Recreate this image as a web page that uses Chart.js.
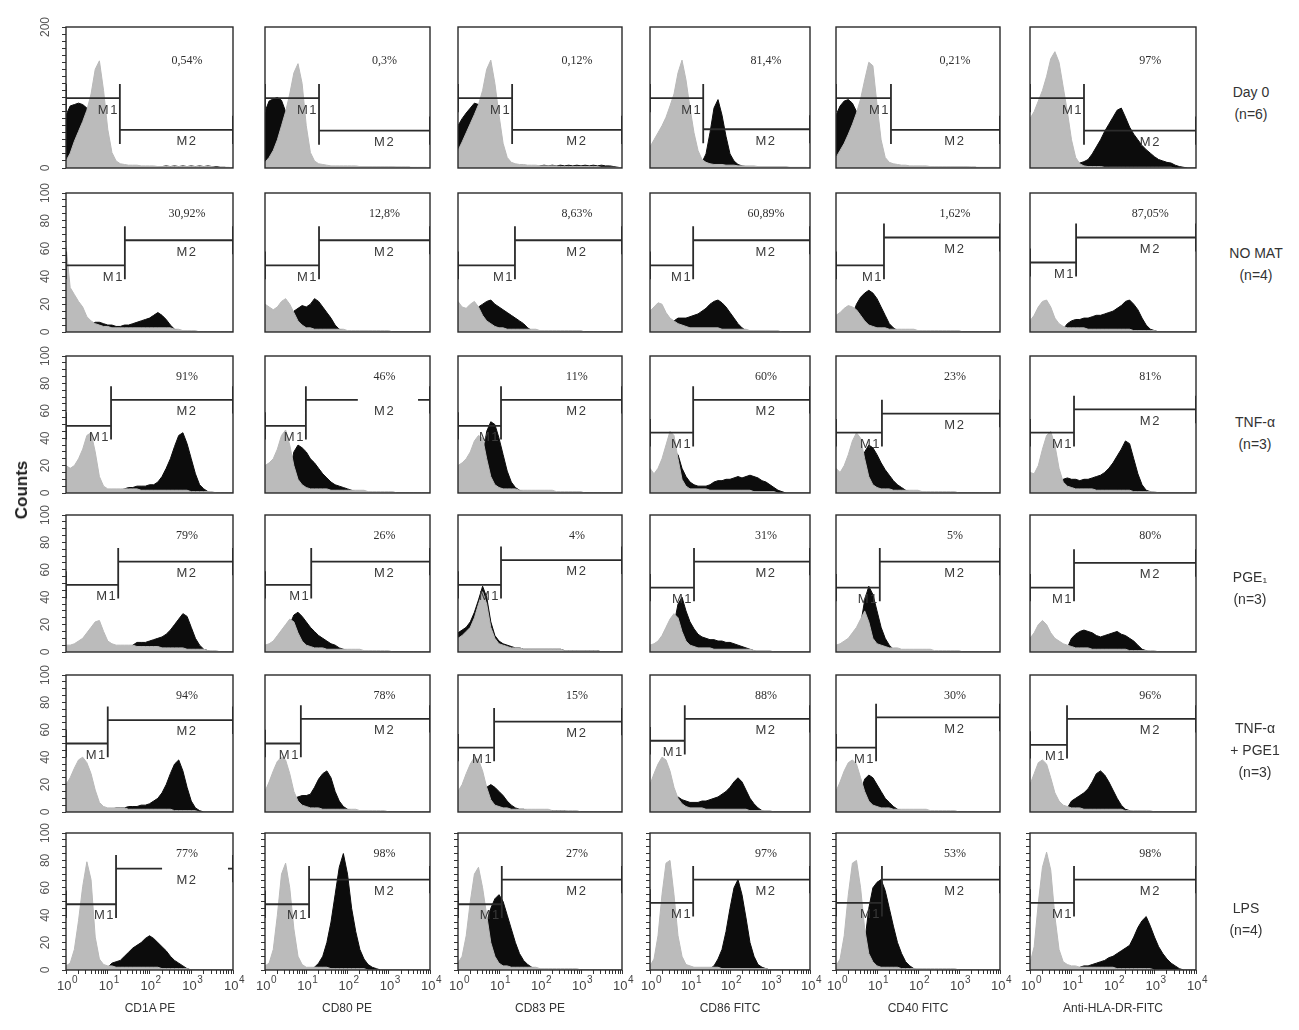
<!DOCTYPE html>
<html><head><meta charset="utf-8">
<script src="https://cdn.jsdelivr.net/npm/chart.js@4.4.1/dist/chart.umd.min.js"></script>
<style>
html,body{margin:0;padding:0;background:#fff;}
#stage{position:relative;width:1299px;height:1030px;overflow:hidden;font-family:"Liberation Sans",Arial,sans-serif;color:#333;}
#stage canvas{position:absolute;}
.lbl{position:absolute;transform:translate(-50%,-50%);white-space:nowrap;text-align:center;}
</style></head><body><div id="stage"></div>
<script>
// ---------- DATA ----------
// fluorescence channels (log x axis), 0.1-decade steps from 10^0 to 10^4
const channels = [1,1.259,1.585,1.995,2.512,3.162,3.981,5.012,6.310,7.943,
  10,12.59,15.85,19.95,25.12,31.62,39.81,50.12,63.10,79.43,
  100,125.9,158.5,199.5,251.2,316.2,398.1,501.2,631.0,794.3,
  1000,1259,1585,1995,2512,3162,3981,5012,6310,7943,10000];
const markers = ['CD1A PE','CD80 PE','CD83 PE','CD86 FITC','CD40 FITC','Anti-HLA-DR-FITC'];
const conditions = [['Day 0','(n=6)'],['NO MAT','(n=4)'],['TNF-α','(n=3)'],['PGE₁','(n=3)'],['TNF-α','+ PGE1','(n=3)'],['LPS','(n=4)']];
const percents = [
  ['0,54%','0,3%','0,12%','81,4%','0,21%','97%'],
  ['30,92%','12,8%','8,63%','60,89%','1,62%','87,05%'],
  ['91%','46%','11%','60%','23%','81%'],
  ['79%','26%','4%','31%','5%','80%'],
  ['94%','78%','15%','88%','30%','96%'],
  ['77%','98%','27%','97%','53%','98%']];
const gateX = [
  [19.5,20.4,20.9,21.4,21.9,20],
  [25.7,20.4,24.5,12,14.8,12.9],
  [12,9.8,11.2,12,13.2,11.5],
  [17.8,13.2,11.2,12.6,11.7,11.5],
  [10,7.4,7.6,7.4,9.5,7.8],
  [15.8,11.7,11.7,12,13.2,11.5]];
const m1Y = [[99,99,99,99,99,99],[48,48,48,48,48,50],[49,49,49,44,44,44],[49,49,49,47,47,47],[50,50,47,52,47,49],[48,48,48,49,49,49]];
const m2Y = [[54,53,54,55,54,53],[66,66,66,66,68,68],[68,68,68,68,58,61],[66,66,67,66,66,65],[67,68,66,68,69,68],[74,66,66,66,66,66]];
const m2Gap = [[null,null,null,null,null,null],[null,null,null,null,null,null],[null,[178,5129],null,null,null,null],
  [null,null,null,null,null,null],[null,null,null,null,null,null],[[200,7586],null,null,null,null,null]];
const yMaxRow = [200,100,100,100,100,100];
const yTicksRow0 = [0,10,20,30,40,50,60,70,80,90,100,110,120,130,140,150,160,170,180,190,200];
const yLabelsRow0 = [0,200];
const yTicksRest = [0,5,10,15,20,25,30,35,40,45,50,55,60,65,70,75,80,85,90,95,100];
const yLabelsRest = [0,20,40,60,80,100];
const xDecades = [1,10,100,1000,10000];
const xTickBase = '10';
const xTickExp = ['0','1','2','3','4'];

// Row 1: Day 0
const g11=[10,21,38,52,66,82,105,140,152,110, 55,22,10,6,5,4,4,4,3,3, 3,3,2,2,2,2,2,2,2,2, 2,2,2,2,2,2,1,1,1,1, 0];
const b11=[75,88,90,92,90,85,40,10,4,2, 1,1,1,1,1,1,1,1,1,1, 1,1,1,2,3,2,3,2,3,2, 3,2,3,2,3,2,2,1,1,0, 0];
const g12=[8,15,25,40,60,80,105,135,148,120, 60,22,10,6,5,4,3,3,3,3, 3,3,3,2,2,2,2,2,2,2, 2,2,1,1,1,1,1,1,1,1, 0];
const b12=[80,95,98,100,96,80,40,12,5,2, 1,1,1,1,1,1,1,1,1,1, 1,1,1,1,1,1,1,1,1,1, 1,1,1,1,1,1,0,0,0,0, 0];
const g13=[25,37,50,63,76,90,110,140,153,120, 75,35,15,8,6,5,5,4,4,4, 3,3,3,3,3,2,2,2,2,2, 2,2,2,2,2,1,1,1,1,1, 0];
const b13=[60,70,78,85,92,90,60,25,8,3, 2,1,1,1,1,1,1,1,1,1, 3,4,3,4,3,4,3,4,3,4, 3,4,3,4,3,4,3,3,2,1, 0];
const g14=[30,40,50,60,72,88,105,135,153,125, 85,50,25,12,8,6,5,5,5,4, 4,4,3,3,3,3,3,2,2,2, 2,2,2,2,2,1,1,1,1,1, 0];
const b14=[0,0,0,0,0,0,0,0,0,0, 0,0,0,8,20,50,85,97,75,45, 20,10,5,3,2,1,1,0,0,0, 0,0,0,0,0,0,0,0,0,0, 0];
const g15=[15,25,35,48,62,78,98,125,150,145, 90,40,15,8,6,5,4,4,3,3, 3,3,3,2,2,2,2,2,2,2, 2,2,2,1,1,1,1,1,1,1, 0];
const b15=[75,88,95,97,92,80,50,20,8,3, 2,1,1,1,1,1,1,1,1,1, 1,1,1,1,1,1,1,1,1,1, 1,1,1,1,1,0,0,0,0,0, 0];
const g16=[70,80,95,110,130,155,165,150,115,80, 40,15,6,3,2,2,2,2,1,1, 1,1,1,1,1,1,1,1,1,1, 1,1,1,1,1,0,0,0,0,0, 0];
const b16=[0,0,0,0,0,0,0,0,0,0, 3,5,7,9,12,20,30,40,52,62, 72,82,85,72,58,48,40,32,26,21, 16,12,10,8,7,4,2,1,0,0, 0];
// Row 2: NO MAT
const g21=[62,32,27,22,18,11,8,6,5,4, 4,3,3,3,3,3,3,3,3,3, 3,3,3,3,3,3,2,2,1,1, 1,1,0,0,0,0,0,0,0,0, 0];
const b21=[0,0,0,0,0,0,6,7,7,6, 5,5,4,4,5,5,6,7,8,9, 10,12,14,12,9,5,2,1,0,0, 0,0,0,0,0,0,0,0,0,0, 0];
const g22=[20,18,16,18,22,24,20,14,8,5, 3,3,2,2,2,2,2,2,2,2, 1,1,1,1,1,1,1,1,1,1, 1,0,0,0,0,0,0,0,0,0, 0];
const b22=[0,0,0,0,0,5,12,15,17,19, 18,20,24,22,18,14,10,5,2,1, 0,0,0,0,0,0,0,0,0,0, 0,0,0,0,0,0,0,0,0,0, 0];
const g23=[22,18,17,20,22,18,12,8,6,4, 3,3,2,2,2,2,2,2,2,2, 1,1,1,1,1,1,1,1,1,1, 1,0,0,0,0,0,0,0,0,0, 0];
const b23=[0,0,0,8,14,18,20,22,23,20, 18,16,14,12,10,8,6,3,1,0, 0,0,0,0,0,0,0,0,0,0, 0,0,0,0,0,0,0,0,0,0, 0];
const g24=[15,18,21,20,14,10,8,6,5,4, 3,3,3,3,3,3,3,3,2,2, 2,2,2,2,2,1,1,1,1,1, 1,1,1,0,0,0,0,0,0,0, 0];
const b24=[0,0,0,0,0,0,8,10,10,10, 11,12,13,15,17,20,22,23,21,18, 14,10,6,3,1,0,0,0,0,0, 0,0,0,0,0,0,0,0,0,0, 0];
const g25=[12,14,17,19,18,16,12,8,5,4, 3,3,3,2,2,2,2,2,2,2, 1,1,1,1,1,1,1,1,1,1, 1,0,0,0,0,0,0,0,0,0, 0];
const b25=[0,0,0,5,12,20,25,28,30,28, 24,18,12,6,3,1,0,0,0,0, 0,0,0,0,0,0,0,0,0,0, 0,0,0,0,0,0,0,0,0,0, 0];
const g26=[8,12,18,22,23,18,10,6,4,3, 3,3,3,3,2,2,2,2,2,2, 2,2,2,2,2,1,1,1,1,1, 1,0,0,0,0,0,0,0,0,0, 0];
const b26=[0,0,0,0,0,0,0,0,2,6, 8,9,9,10,10,11,12,12,13,14, 15,17,19,22,23,20,16,10,5,2, 1,0,0,0,0,0,0,0,0,0, 0];
// Row 3: TNF-a
const g31=[20,18,20,25,32,42,44,30,12,5, 3,3,3,3,3,3,3,3,2,2, 2,2,2,2,2,2,2,2,2,2, 1,1,1,1,1,1,0,0,0,0, 0];
const b31=[0,0,0,0,0,0,0,0,0,0, 0,0,0,2,3,4,4,5,5,5, 6,6,8,12,18,25,34,42,44,36, 25,14,6,3,1,0,0,0,0,0, 0];
const g32=[20,22,25,32,42,46,35,20,10,6, 4,3,3,3,3,3,2,2,2,2, 2,2,2,2,2,1,1,1,1,1, 1,1,0,0,0,0,0,0,0,0, 0];
const b32=[0,0,0,0,0,0,15,30,35,33, 30,25,22,18,14,11,8,6,5,4, 3,2,1,0,0,0,0,0,0,0, 0,0,0,0,0,0,0,0,0,0, 0];
const g33=[20,22,25,30,38,42,40,25,12,6, 4,3,3,3,3,2,2,2,2,2, 2,2,2,2,1,1,1,1,1,1, 1,0,0,0,0,0,0,0,0,0, 0];
const b33=[0,0,0,0,0,0,25,45,52,50, 40,28,16,8,4,2,1,0,0,0, 0,0,0,0,0,0,0,0,0,0, 0,0,0,0,0,0,0,0,0,0, 0];
const g34=[18,14,18,25,35,45,42,25,10,5, 3,3,3,3,3,2,2,2,2,2, 2,2,2,2,2,2,1,1,1,1, 1,1,0,0,0,0,0,0,0,0, 0];
const b34=[0,0,0,0,0,0,30,28,18,12, 8,6,5,5,5,6,8,9,9,10, 10,11,12,11,12,13,12,11,9,8, 6,4,2,1,0,0,0,0,0,0, 0];
const g35=[18,15,20,28,38,44,40,25,12,6, 4,3,3,3,2,2,2,2,2,2, 2,1,1,1,1,1,1,1,1,1, 0,0,0,0,0,0,0,0,0,0, 0];
const b35=[0,0,0,0,0,0,20,30,35,33, 28,22,17,13,9,6,4,2,1,0, 0,0,0,0,0,0,0,0,0,0, 0,0,0,0,0,0,0,0,0,0, 0];
const g36=[15,14,20,32,42,45,35,18,8,5, 4,3,3,3,3,3,2,2,2,2, 2,2,2,2,2,1,1,1,1,1, 1,0,0,0,0,0,0,0,0,0, 0];
const b36=[0,0,0,0,0,0,0,5,10,11, 10,10,9,10,10,11,12,13,15,18, 22,27,32,38,36,25,14,6,2,1, 0,0,0,0,0,0,0,0,0,0, 0];
// Row 4: PGE1
const g41=[5,5,6,8,10,14,18,22,23,15, 8,6,5,5,5,5,5,4,4,4, 4,4,4,3,3,3,3,3,3,2, 2,2,2,2,1,1,1,0,0,0, 0];
const b41=[0,0,0,0,0,0,0,0,0,0, 0,0,0,0,0,2,5,7,7,7, 8,9,10,11,13,16,20,24,28,26, 18,10,5,2,1,0,0,0,0,0, 0];
const g42=[5,6,8,12,16,20,24,22,14,8, 5,4,3,3,3,2,2,2,2,2, 2,2,2,2,1,1,1,1,1,1, 1,0,0,0,0,0,0,0,0,0, 0];
const b42=[0,0,0,0,0,0,20,27,29,26, 22,18,15,12,10,8,6,5,3,2, 1,0,0,0,0,0,0,0,0,0, 0,0,0,0,0,0,0,0,0,0, 0];
const g43=[10,12,15,18,25,35,44,35,18,10, 6,5,4,3,3,3,2,2,2,2, 2,2,2,2,2,2,1,1,1,1, 1,1,1,1,1,0,0,0,0,0, 0];
const b43=[14,16,18,22,29,38,48,40,22,12, 8,6,5,4,3,3,2,2,2,2, 2,2,2,2,2,2,1,1,1,1, 1,1,1,1,1,0,0,0,0,0, 0];
const g44=[5,6,8,12,18,24,28,25,15,8, 5,4,3,3,3,3,2,2,2,2, 2,2,2,2,2,2,1,1,1,1, 1,0,0,0,0,0,0,0,0,0, 0];
const b44=[0,0,0,0,0,0,20,35,40,30, 22,17,13,11,10,9,9,8,8,7, 7,6,5,4,3,2,1,0,0,0, 0,0,0,0,0,0,0,0,0,0, 0];
const g45=[5,6,8,10,14,18,24,30,22,10, 6,5,4,3,3,3,2,2,2,2, 2,2,2,2,1,1,1,1,1,1, 1,0,0,0,0,0,0,0,0,0, 0];
const b45=[0,0,0,0,0,0,20,38,48,42, 30,18,10,5,2,1,0,0,0,0, 0,0,0,0,0,0,0,0,0,0, 0,0,0,0,0,0,0,0,0,0, 0];
const g46=[10,14,20,23,20,14,10,8,6,5, 4,3,3,3,3,2,2,2,2,2, 2,2,2,2,1,1,1,1,1,1, 1,0,0,0,0,0,0,0,0,0, 0];
const b46=[0,0,0,0,0,0,0,0,0,3, 10,13,15,16,15,14,12,11,12,13, 14,15,13,12,10,8,5,2,1,0, 0,0,0,0,0,0,0,0,0,0, 0];
// Row 5: TNF-a + PGE1
const g51=[20,25,32,38,40,36,28,16,7,4, 3,3,3,3,3,2,2,2,2,2, 2,2,2,2,2,2,1,1,1,1, 1,1,0,0,0,0,0,0,0,0, 0];
const b51=[0,0,0,0,0,0,0,0,0,0, 1,2,3,3,3,4,4,4,5,5, 6,8,10,14,20,28,35,38,30,18, 8,3,1,0,0,0,0,0,0,0, 0];
const g52=[15,22,30,37,40,38,28,15,8,5, 4,3,3,3,2,2,2,2,2,2, 2,2,2,1,1,1,1,1,1,1, 0,0,0,0,0,0,0,0,0,0, 0];
const b52=[0,0,0,0,0,0,8,10,11,12, 12,13,18,24,28,30,25,15,8,4, 2,1,0,0,0,0,0,0,0,0, 0,0,0,0,0,0,0,0,0,0, 0];
const g53=[15,20,28,35,40,38,30,18,9,5, 4,3,3,2,2,2,2,2,2,2, 2,2,2,1,1,1,1,1,1,1, 0,0,0,0,0,0,0,0,0,0, 0];
const b53=[0,0,0,0,0,0,12,18,20,18, 15,12,8,5,3,2,2,1,1,1, 1,1,1,1,1,1,1,0,0,0, 0,0,0,0,0,0,0,0,0,0, 0];
const g54=[20,28,35,40,38,30,18,10,6,4, 3,3,3,3,2,2,2,2,2,2, 2,2,2,2,2,1,1,1,1,1, 1,0,0,0,0,0,0,0,0,0, 0];
const b54=[0,0,0,0,0,5,10,11,9,8, 7,7,7,8,8,9,10,11,13,15, 18,22,25,22,16,10,6,3,1,0, 0,0,0,0,0,0,0,0,0,0, 0];
const g55=[15,22,30,36,38,35,25,15,8,5, 4,3,3,3,2,2,2,2,2,2, 2,2,2,1,1,1,1,1,1,1, 0,0,0,0,0,0,0,0,0,0, 0];
const b55=[0,0,0,0,0,0,15,24,27,25, 20,15,10,7,4,2,1,0,0,0, 0,0,0,0,0,0,0,0,0,0, 0,0,0,0,0,0,0,0,0,0, 0];
const g56=[20,28,36,38,35,25,14,8,5,4, 3,3,3,2,2,2,2,2,2,2, 2,2,2,1,1,1,1,1,1,1, 0,0,0,0,0,0,0,0,0,0, 0];
const b56=[0,0,0,0,0,0,0,0,0,3, 8,10,12,14,17,22,28,30,27,22, 16,10,5,2,1,0,0,0,0,0, 0,0,0,0,0,0,0,0,0,0, 0];
// Row 6: LPS
const g61=[3,5,15,36,61,79,66,24,8,4, 3,3,2,2,2,2,2,2,2,2, 2,2,2,1,1,1,1,1,1,1, 0,0,0,0,0,0,0,0,0,0, 0];
const b61=[0,0,0,0,0,0,0,0,0,0, 2,5,6,7,10,13,16,18,20,23, 25,23,20,17,14,10,7,5,3,1, 0,0,0,0,0,0,0,0,0,0, 0];
const g62=[3,5,15,40,70,78,60,30,10,4, 2,2,2,2,2,2,1,1,1,1, 1,1,1,1,1,0,0,0,0,0, 0,0,0,0,0,0,0,0,0,0, 0];
const b62=[0,0,0,0,0,0,0,0,0,0, 0,0,2,5,10,20,35,55,75,85, 70,45,28,15,8,4,2,1,0,0, 0,0,0,0,0,0,0,0,0,0, 0];
const g63=[5,10,25,50,70,75,60,40,20,10, 5,3,3,2,2,2,2,2,2,2, 1,1,1,1,1,1,1,1,1,1, 0,0,0,0,0,0,0,0,0,0, 0];
const b63=[0,0,0,0,0,0,0,35,45,52, 55,50,40,30,20,12,7,4,2,1, 0,0,0,0,0,0,0,0,0,0, 0,0,0,0,0,0,0,0,0,0, 0];
const g64=[3,8,25,55,78,80,55,25,10,4, 3,2,2,2,2,2,2,2,1,1, 1,1,1,1,1,1,1,1,1,1, 0,0,0,0,0,0,0,0,0,0, 0];
const b64=[0,0,0,0,0,0,0,0,0,0, 0,0,0,0,0,1,3,8,15,28, 45,60,66,55,38,20,10,4,2,1, 0,0,0,0,0,0,0,0,0,0, 0];
const g65=[3,8,25,55,78,80,60,30,12,6, 3,2,2,2,2,2,1,1,1,1, 1,1,1,1,1,1,1,1,1,1, 0,0,0,0,0,0,0,0,0,0, 0];
const b65=[0,0,0,0,0,0,0,20,45,60, 64,66,58,45,32,20,12,6,3,1, 0,0,0,0,0,0,0,0,0,0, 0,0,0,0,0,0,0,0,0,0, 0];
const g66=[5,17,49,75,86,73,39,15,6,4, 3,3,2,2,2,2,2,2,2,2, 2,1,1,1,1,1,1,1,1,1, 0,0,0,0,0,0,0,0,0,0, 0];
const b66=[0,0,0,0,0,0,0,0,0,0, 0,0,2,3,3,4,5,6,7,9, 10,12,14,16,18,24,31,36,39,32, 24,17,12,8,5,3,1,0,0,0, 0];

const GREY = [[g11,g12,g13,g14,g15,g16],[g21,g22,g23,g24,g25,g26],[g31,g32,g33,g34,g35,g36],
              [g41,g42,g43,g44,g45,g46],[g51,g52,g53,g54,g55,g56],[g61,g62,g63,g64,g65,g66]];
const BLACK = [[b11,b12,b13,b14,b15,b16],[b21,b22,b23,b24,b25,b26],[b31,b32,b33,b34,b35,b36],
               [b41,b42,b43,b44,b45,b46],[b51,b52,b53,b54,b55,b56],[b61,b62,b63,b64,b65,b66]];

// ---------- LAYOUT ----------
const colLeft=[66,265,458,650,836,1030], colW=[167,165,164,160,164,166];
const rowTop=[27,193,356,515,675,833], rowH=[141,139,137,137,137,137];
const stage = document.getElementById('stage');

// minor log ticks for bottom axes
const xTickVals = [];
for (let k=0;k<4;k++){ for (let d=1; d<10; d++) xTickVals.push(d*Math.pow(10,k)); }
xTickVals.push(10000);

const framePlugin = {
  id:'frame',
  afterDraw(chart){
    const {ctx, chartArea:a} = chart;
    ctx.save(); ctx.strokeStyle='#2a2a2a'; ctx.lineWidth=1.4;
    ctx.strokeRect(a.left, a.top, a.right-a.left, a.bottom-a.top);
    ctx.restore();
  }
};
const textPlugin = {
  id:'gateText',
  afterDatasetDraw(chart, args, opts){
    if (args.index !== 1) return;   // after the grey histogram, before markers
    const r = opts.r, c = opts.c, ymax = yMaxRow[r];
    const {ctx} = chart, xs = chart.scales.x, ys = chart.scales.y;
    ctx.save();
    ctx.textBaseline='middle';
    ctx.fillStyle='#3a3a3a';
    ctx.font='13px "Liberation Sans", Arial, sans-serif';
    try { ctx.letterSpacing='1.5px'; } catch(e){}
    ctx.textAlign='right';
    ctx.fillText('M1', xs.getPixelForValue(gateX[r][c]) - 1, ys.getPixelForValue(m1Y[r][c]-0.085*ymax));
    ctx.textAlign='center';
    ctx.fillText('M2', xs.getPixelForValue(794), ys.getPixelForValue(m2Y[r][c]-0.085*ymax));
    try { ctx.letterSpacing='0px'; } catch(e){}
    ctx.fillStyle='#2e2e2e';
    ctx.font='12px "Liberation Serif", "Times New Roman", serif';
    ctx.fillText(percents[r][c], xs.getPixelForValue(794), ys.getPixelForValue((r===0?0.76:0.85)*ymax));
    ctx.restore();
  }
};
const decadePlugin = {
  id:'decadeLabels',
  afterDraw(chart, args, opts){
    if (!opts.show) return;
    const {ctx} = chart, xs = chart.scales.x, yb = chart.chartArea.bottom;
    ctx.save(); ctx.fillStyle='#444'; ctx.textBaseline='middle'; ctx.textAlign='left';
    xDecades.forEach((v,i)=>{
      ctx.font='13px "Liberation Sans", Arial, sans-serif';
      const wb = ctx.measureText(xTickBase).width;
      ctx.font='10px "Liberation Sans", Arial, sans-serif';
      const we = ctx.measureText(xTickExp[i]).width;
      const x0 = xs.getPixelForValue(v) - (wb+we)/2 + 1;
      ctx.font='13px "Liberation Sans", Arial, sans-serif';
      ctx.fillText(xTickBase, x0, yb+16);
      ctx.font='10px "Liberation Sans", Arial, sans-serif';
      ctx.fillText(xTickExp[i], x0+wb+0.5, yb+10);
    });
    ctx.restore();
  }
};

function markerData(r,c){
  const g=gateX[r][c], a=m1Y[r][c], b=m2Y[r][c], d=0.1*yMaxRow[r];
  const pts=[
    {x:1,y:a-d},{x:1,y:a+d},{x:1,y:null},
    {x:1,y:a},{x:g,y:a},{x:g,y:null},
    {x:g,y:Math.min(a,b)-d},{x:g,y:Math.max(a,b)+d},{x:g,y:null}];
  const gap=m2Gap[r][c];
  if (gap){ pts.push({x:g,y:b},{x:gap[0],y:b},{x:gap[0],y:null},{x:gap[1],y:b},{x:10000,y:b},{x:10000,y:null}); }
  else { pts.push({x:g,y:b},{x:10000,y:b},{x:10000,y:null}); }
  pts.push({x:10000,y:b-d},{x:10000,y:b+d});
  return pts;
}
const toPts = arr => channels.map((x,i)=>({x:x, y:arr[i]}));

for (let r=0;r<6;r++){
  for (let c=0;c<6;c++){
    const bottomRow = r===5, firstCol = c===0;
    const padL = firstCol ? 44 : (bottomRow ? 16 : 2);
    const padR = bottomRow ? 16 : 3;
    const padT = firstCol ? 16 : 3;
    const padB = bottomRow ? 26 : (firstCol ? 10 : 3);
    const W = colW[c]+padL+padR, H = rowH[r]+padT+padB;
    const cv = document.createElement('canvas');
    cv.width=W; cv.height=H;
    cv.style.left=(colLeft[c]-padL)+'px'; cv.style.top=(rowTop[r]-padT)+'px';
    cv.style.width=W+'px'; cv.style.height=H+'px';
    stage.appendChild(cv);
    const yTickVals = r===0 ? yTicksRow0 : yTicksRest;
    const yLabels = r===0 ? yLabelsRow0 : yLabelsRest;
    new Chart(cv.getContext('2d'), {
      type:'line',
      data:{datasets:[
        {data:markerData(r,c), borderColor:'#2b2b2b', borderWidth:1.8, pointRadius:0, fill:false, spanGaps:false, order:0, tension:0},
        {data:toPts(GREY[r][c]), borderColor:'#b8b8b8', backgroundColor:'#bbbbbb', borderWidth:1, pointRadius:0, fill:'origin', order:1, tension:0},
        {data:toPts(BLACK[r][c]), borderColor:'#0c0c0c', backgroundColor:'#0c0c0c', borderWidth:1, pointRadius:0, fill:'origin', order:2, tension:0}
      ]},
      options:{
        responsive:false, animation:false, devicePixelRatio:1,
        layout:{padding:{left:0,right:padR,top:padT,bottom:0}},
        plugins:{legend:{display:false}, tooltip:{enabled:false}, gateText:{r:r,c:c}, decadeLabels:{show:bottomRow}},
        scales:{
          x:{type:'logarithmic', min:1, max:10000,
             afterBuildTicks: s => { s.ticks = xTickVals.map(v=>({value:v})); },
             afterFit: s => { s.height = padB; s.paddingLeft=0; s.paddingRight=0; },
             grid:{display:bottomRow, drawOnChartArea:false, drawTicks:true, tickLength:4, color:'#333', lineWidth:1},
             border:{display:false},
             ticks:{display:false, autoSkip:false}
          },
          y:{type:'linear', min:0, max:yMaxRow[r],
             afterBuildTicks: s => { s.ticks = yTickVals.map(v=>({value:v})); },
             afterFit: s => { s.width = padL; s.paddingTop=0; s.paddingBottom=0; },
             grid:{display:(firstCol||bottomRow), drawOnChartArea:false, drawTicks:true, tickLength:4, color:'#333', lineWidth:1},
             border:{display:false},
             ticks:{display:firstCol, autoSkip:false, minRotation:90, maxRotation:90, padding:6, crossAlign:'center', color:'#555',
                    font:{family:'"Liberation Sans", sans-serif', size:12},
                    callback: v => yLabels.includes(v) ? String(v) : ''}
          }
        }
      },
      plugins:[framePlugin, textPlugin, decadePlugin]
    });
  }
}

// ---------- HTML TEXT ----------
function addLabel(html, x, y, style){
  const d=document.createElement('div'); d.className='lbl'; d.innerHTML=html;
  d.style.left=x+'px'; d.style.top=y+'px'; if(style) d.style.cssText += style; stage.appendChild(d);
}
addLabel('Counts', 22, 490, 'transform:translate(-50%,-50%) rotate(-90deg);font-weight:bold;font-size:17px;color:#222;');
const titleX=[150,347,540,730,918,1113];
markers.forEach((m,i)=>addLabel(m, titleX[i], 1008, 'font-size:12px;color:#333;'));
const condXY=[[1251,103],[1256,264],[1255,433],[1250,588],[1255,750],[1246,919]];
conditions.forEach((lines,i)=>addLabel(lines.join('<br>'), condXY[i][0], condXY[i][1], 'font-size:14px;line-height:22px;color:#333;'));
</script></body></html>
